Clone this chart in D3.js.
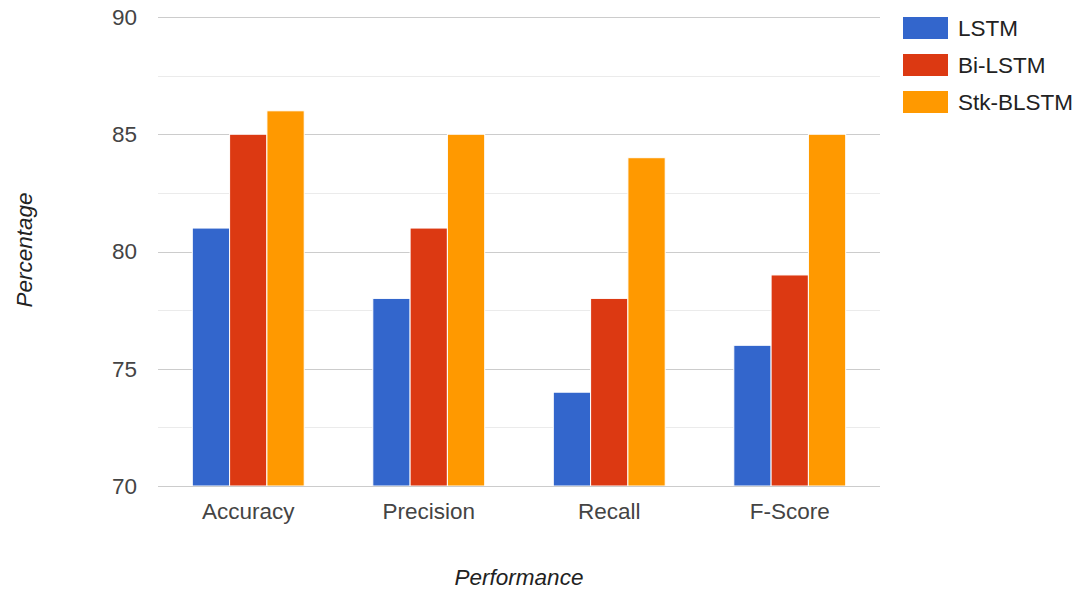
<!DOCTYPE html>
<html>
<head>
<meta charset="utf-8">
<script src="https://cdn.jsdelivr.net/npm/d3@7"></script>
<style>
  html, body { margin: 0; padding: 0; background: #fff; }
  svg { display: block; font-family: "Liberation Sans", Arial, sans-serif; }
</style>
</head>
<body>
<svg id="chart" width="1078" height="592"></svg>
<script>
// Model performance by metric
const categories = ["Accuracy", "Precision", "Recall", "F-Score"];
const seriesNames = ["LSTM", "Bi-LSTM", "Stk-BLSTM"];
const lstm = [81, 78, 74, 76];
const biLstm = [85, 81, 78, 79];
const stkBlstm = [86, 85, 84, 85];
const yTicks = [70, 75, 80, 85, 90];
const yMinorTicks = [72.5, 77.5, 82.5, 87.5];
const colors = ["#3366cc", "#dc3912", "#ff9900"];

const values = [lstm, biLstm, stkBlstm];
const rows = categories.map((c, i) => ({
  category: c,
  bars: seriesNames.map((s, j) => ({ series: s, value: values[j][i], idx: j }))
}));

const FS = 22.5;
const svg = d3.select("#chart");
const plot = { left: 158, right: 880, top: 17, bottom: 486 };

const x = d3.scaleBand().domain(categories).range([plot.left, plot.right]).paddingInner(0.38).paddingOuter(0.19);
const xs = d3.scaleBand().domain(seriesNames).range([0, x.bandwidth()]).padding(0);
const y = d3.scaleLinear().domain([70, 90]).range([plot.bottom, plot.top]);

// minor gridlines
svg.append("g").selectAll("line").data(yMinorTicks).join("line")
  .attr("x1", plot.left).attr("x2", plot.right)
  .attr("y1", d => Math.round(y(d)) + 0.5).attr("y2", d => Math.round(y(d)) + 0.5)
  .attr("stroke", "#ebebeb").attr("stroke-width", 1);

// major gridlines
svg.append("g").selectAll("line").data(yTicks).join("line")
  .attr("x1", plot.left).attr("x2", plot.right)
  .attr("y1", d => Math.round(y(d)) + 0.5).attr("y2", d => Math.round(y(d)) + 0.5)
  .attr("stroke", "#cccccc").attr("stroke-width", 1);

// y tick labels
svg.append("g").selectAll("text").data(yTicks).join("text")
  .attr("x", 137).attr("y", d => y(d))
  .attr("dy", "0.35em")
  .attr("text-anchor", "end")
  .attr("font-size", FS).attr("fill", "#444")
  .text(d => d);

// bars
const groups = svg.append("g").selectAll("g").data(rows).join("g")
  .attr("transform", d => `translate(${x(d.category)},0)`);
groups.selectAll("rect").data(d => d.bars).join("rect")
  .attr("x", d => xs(d.series))
  .attr("y", d => y(d.value))
  .attr("width", xs.bandwidth())
  .attr("height", d => y(70) - y(d.value))
  .attr("fill", d => colors[d.idx])
  .attr("stroke", "#ffffff").attr("stroke-width", 1);

// baseline
svg.append("line")
  .attr("x1", plot.left).attr("x2", plot.right)
  .attr("y1", Math.round(y(70)) + 0.5).attr("y2", Math.round(y(70)) + 0.5)
  .attr("stroke", "#cccccc");

// category labels
svg.append("g").selectAll("text").data(categories).join("text")
  .attr("x", d => x(d) + x.bandwidth() / 2)
  .attr("y", 519)
  .attr("text-anchor", "middle")
  .attr("font-size", FS).attr("fill", "#444")
  .text(d => d);

// axis titles
svg.append("text")
  .attr("x", 519).attr("y", 585)
  .attr("text-anchor", "middle")
  .attr("font-size", FS).attr("font-style", "italic").attr("fill", "#222")
  .text("Performance");
svg.append("text")
  .attr("transform", "translate(32,250) rotate(-90)")
  .attr("text-anchor", "middle")
  .attr("font-size", FS).attr("font-style", "italic").attr("fill", "#222")
  .text("Percentage");

// legend
const legend = svg.append("g").selectAll("g").data(seriesNames).join("g")
  .attr("transform", (d, i) => `translate(903,${17 + i * 37})`);
legend.append("rect")
  .attr("width", 45).attr("height", 22)
  .attr("fill", (d, i) => colors[i]);
legend.append("text")
  .attr("x", 55).attr("y", 11).attr("dy", "0.35em")
  .attr("font-size", FS).attr("fill", "#222")
  .text(d => d);
</script>
</body>
</html>
